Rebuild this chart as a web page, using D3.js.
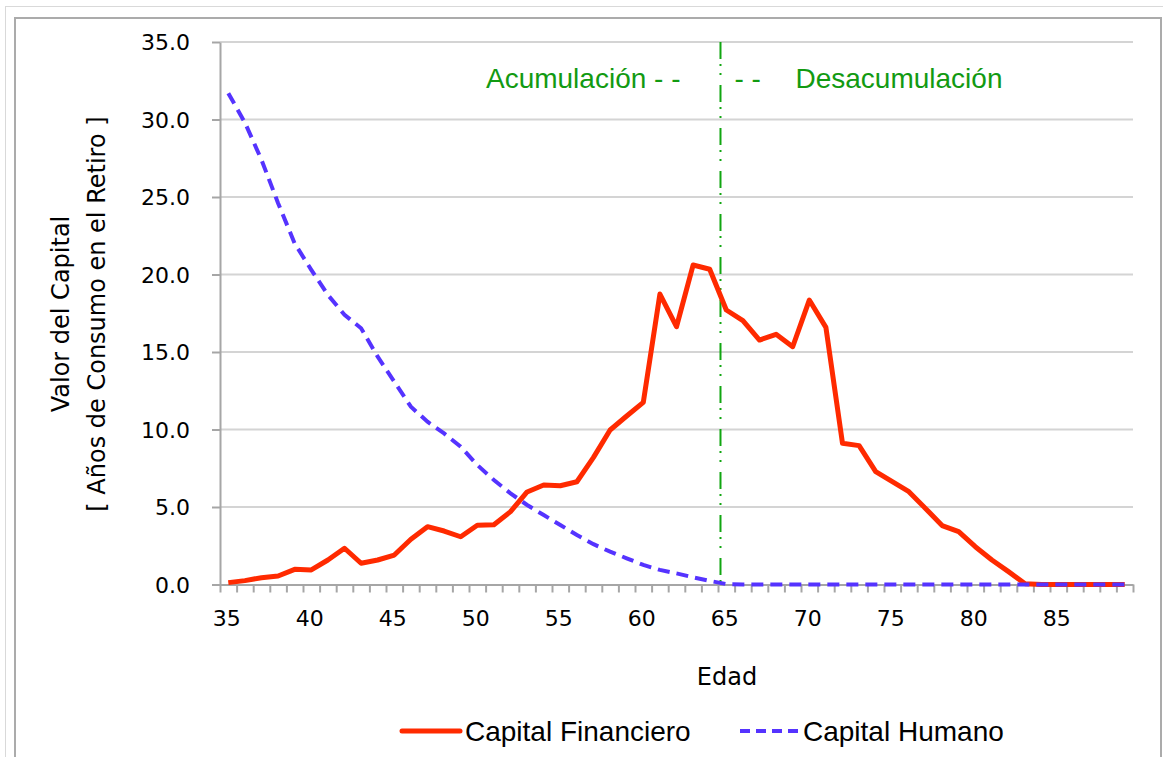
<!DOCTYPE html>
<html>
<head>
<meta charset="utf-8">
<script src="https://cdn.jsdelivr.net/npm/d3@7"></script>
<style>
  body { margin: 0; background: #fff; }
  .axis path, .axis line { stroke: #a6a6a6; stroke-width: 2; }
  .axis text { font-family: "DejaVu Sans", sans-serif; font-size: 22px; fill: #000; }
</style>
</head>
<body>
<div id="chart"></div>
<script>
(function(){

// ages on the category axis
var ages = d3.range(35, 90);

// Capital Financiero
var financiero = [0.12, 0.25, 0.44, 0.55, 0.98, 0.94, 1.58, 2.34, 1.37, 1.58,
                  1.9, 2.92, 3.73, 3.45, 3.08, 3.82, 3.85, 4.7, 5.97, 6.42,
                  6.37, 6.63, 8.2, 9.97, 10.87, 11.75, 18.74, 16.63, 20.61, 20.34,
                  17.71, 17.02, 15.77, 16.14, 15.34, 18.35, 16.59, 9.11, 8.96, 7.28,
                  6.63, 5.99, 4.91, 3.8, 3.41, 2.44, 1.58, 0.83, 0.05, 0,
                  0, 0, 0, 0, 0];

// Capital Humano
var humano = [31.7, 29.8, 27.4, 24.6, 22.0, 20.3, 18.68, 17.4, 16.53, 14.7,
              13.08, 11.47, 10.5, 9.75, 8.89, 7.71, 6.74, 5.88, 5.13, 4.48,
              3.84, 3.19, 2.6, 2.12, 1.69, 1.26, 0.94, 0.72, 0.46, 0.23,
              0.03, 0, 0, 0, 0, 0, 0, 0, 0, 0,
              0, 0, 0, 0, 0, 0, 0, 0, 0, 0,
              0, 0, 0, 0, 0];

var yTicks = [0, 5, 10, 15, 20, 25, 30, 35];
var xLabels = [35, 40, 45, 50, 55, 60, 65, 70, 75, 80, 85];
var retiro = 64.65;   // divider between the two phases

var width = 1163,
    height = 757;

var svg = d3.select("#chart")
  .append("svg")
  .attr("width", width)
  .attr("height", height);

// chart frames
svg.append("rect")
    .attr("x", 5.5).attr("y", 6.5)
    .attr("width", 1200).attr("height", 800)
    .attr("fill", "none").attr("stroke", "#d9d9d9").attr("stroke-width", 1);
svg.append("rect")
    .attr("x", 15).attr("y", 18)
    .attr("width", 1146).attr("height", 800)
    .attr("fill", "#fff").attr("stroke", "#ababab").attr("stroke-width", 2);

var x = d3.scaleLinear()
    .domain([34.5, 89.5])
    .range([220, 1133]);

var y = d3.scaleLinear()
    .domain([0, 35])
    .range([584.5, 42]);

// gridlines
svg.append("g")
  .selectAll("line")
  .data(yTicks.slice(1))
  .enter().append("line")
    .attr("x1", x.range()[0])
    .attr("x2", x.range()[1])
    .attr("y1", function(d) { return y(d); })
    .attr("y2", function(d) { return y(d); })
    .attr("stroke", "#d4d4d4")
    .attr("stroke-width", 2);

// y axis
var yAxis = svg.append("g")
    .attr("class", "axis")
    .attr("transform", "translate(220,0)")
    .call(d3.axisLeft(y).tickValues(yTicks).tickSize(8).tickPadding(30).tickSizeOuter(0)
      .tickFormat(d3.format(".1f")));
yAxis.selectAll("text").attr("dy", "0.36em").attr("x", -30);

// x axis: tick marks at category borders, labels every five years
svg.append("g")
    .attr("class", "axis")
    .attr("transform", "translate(0,584.5)")
    .call(d3.axisBottom(x).tickValues(d3.range(34.5, 90, 1)).tickSize(8).tickSizeOuter(0)
      .tickFormat(""));

var xLab = svg.append("g")
    .attr("class", "axis")
    .attr("transform", "translate(0,584.5)")
    .call(d3.axisBottom(x).tickValues(xLabels).tickSize(0).tickPadding(26));
xLab.select(".domain").remove();
xLab.selectAll("text").attr("dx", -2);

// axis titles
svg.append("text")
    .attr("x", 727).attr("y", 685)
    .attr("text-anchor", "middle")
    .style("font-family", "DejaVu Sans, sans-serif")
    .style("font-size", "24px")
    .text("Edad");

var yt = svg.append("text")
    .attr("transform", "translate(0,314) rotate(-90)")
    .attr("text-anchor", "middle")
    .style("font-family", "DejaVu Sans, sans-serif")
    .style("font-size", "24px");
yt.append("tspan").attr("x", 0).attr("y", 69).text("Valor del Capital");
yt.append("tspan").attr("x", 0).attr("y", 105).text("[ Años de Consumo en el Retiro ]");

// divider line and phase labels
svg.append("line")
    .attr("x1", x(retiro)).attr("x2", x(retiro))
    .attr("y1", y(35)).attr("y2", y(0))
    .attr("stroke", "#11a611")
    .attr("stroke-width", 2)
    .attr("stroke-dasharray", "17,5,2,7,2,10");

svg.append("text")
    .attr("x", x(retiro) - 40).attr("y", 88)
    .attr("text-anchor", "end")
    .attr("fill", "#129a12")
    .style("font-family", "Liberation Sans, Arial, sans-serif")
    .style("font-size", "28px")
    .text("Acumulación - -");

var des = svg.append("text")
    .attr("x", x(retiro) + 14).attr("y", 88)
    .attr("fill", "#129a12")
    .style("font-family", "Liberation Sans, Arial, sans-serif")
    .style("font-size", "28px");
des.append("tspan").text("- -");
des.append("tspan").attr("x", x(retiro) + 75).text("Desacumulación");

// lines
var line = function(vals) {
  return d3.line()
    .x(function(d, i) { return x(ages[i]); })
    .y(function(d) { return y(d); })(vals);
};

svg.append("path")
    .attr("d", line(financiero))
    .attr("fill", "none")
    .attr("stroke", "#ff2a00")
    .attr("stroke-width", 5)
    .attr("stroke-linejoin", "round");

svg.append("path")
    .attr("d", line(humano))
    .attr("fill", "none")
    .attr("stroke", "#5533ff")
    .attr("stroke-width", 4)
    .attr("stroke-dasharray", "12,7");

// legend
var legend = svg.append("g").attr("class", "legend");

legend.append("line")
    .attr("x1", 402).attr("x2", 460).attr("y1", 731).attr("y2", 731)
    .attr("stroke", "#ff2a00").attr("stroke-width", 5).attr("stroke-linecap", "round");
legend.append("text")
    .attr("x", 465).attr("y", 741)
    .style("font-family", "Liberation Sans, Arial, sans-serif")
    .style("font-size", "28px")
    .text("Capital Financiero");

legend.append("line")
    .attr("x1", 740).attr("x2", 798).attr("y1", 731).attr("y2", 731)
    .attr("stroke", "#5533ff").attr("stroke-width", 4).attr("stroke-dasharray", "10,6");
legend.append("text")
    .attr("x", 803).attr("y", 741)
    .style("font-family", "Liberation Sans, Arial, sans-serif")
    .style("font-size", "28px")
    .text("Capital Humano");

})();
</script>
</body>
</html>
